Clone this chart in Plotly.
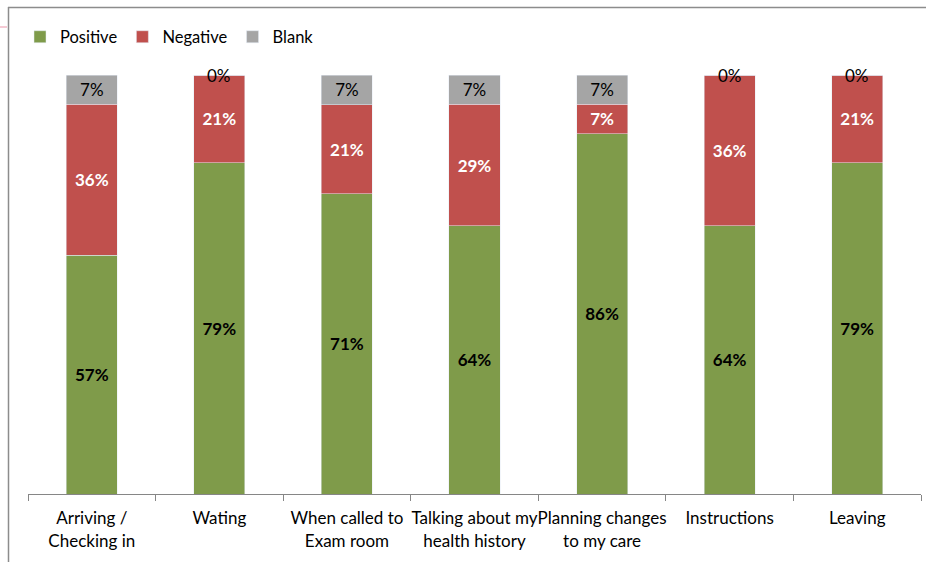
import plotly.graph_objects as go

categories = ["Arriving /<br>Checking in", "Wating", "When called to<br>Exam room",
              "Talking about my<br>health history", "Planning changes<br>to my care",
              "Instructions", "Leaving"]
positive = [57, 79, 71, 64, 86, 64, 79]
negative = [36, 21, 21, 29, 7, 36, 21]
blank = [7, 0, 7, 7, 7, 0, 0]

GREEN = "#7F9B4A"
RED = "#C0504D"
GRAY = "#A5A5A5"
FONT = "Lato"
LBL = 17

def labels(vals):
    return [f"{v}%" if v else "" for v in vals]

fig = go.Figure()
common = dict(textposition="inside", insidetextanchor="middle", textangle=0, constraintext="none")
fig.add_trace(go.Bar(x=categories, y=positive, name="Positive", marker_color=GREEN,
                     text=labels(positive),
                     textfont=dict(family=FONT, size=LBL, color="black", weight="bold"), **common))
fig.add_trace(go.Bar(x=categories, y=negative, name="Negative", marker_color=RED,
                     text=labels(negative),
                     textfont=dict(family=FONT, size=LBL, color="white", weight="bold"), **common))
fig.add_trace(go.Bar(x=categories, y=blank, name="Blank", marker_color=GRAY,
                     text=labels(blank),
                     textfont=dict(family=FONT, size=LBL, color="black"), **common))

# zero-height segments: label at top of the stack
for c, v in zip(categories, blank):
    if v == 0:
        fig.add_annotation(x=c, y=100, text=f"{v}%", showarrow=False, yanchor="middle",
                           font=dict(family=FONT, size=LBL, color="black"))

W, H = 926, 562
L, R, T, B = 28, 5, 75, 68
pw, ph = W - L - R, H - T - B
def px(x):
    return (x - L) / pw
def py(y):
    return (H - B - y) / ph

fig.update_layout(
    width=W, height=H,
    margin=dict(l=L, r=R, t=T, b=B),
    barmode="stack", barnorm="percent", bargap=0.6,
    plot_bgcolor="white", paper_bgcolor="white",
    font=dict(family=FONT, size=17, color="black"),
    showlegend=True,
    legend=dict(orientation="h", x=px(20), xanchor="left", y=py(37), yanchor="middle",
                font=dict(family=FONT, size=16.5, color="black"), traceorder="normal",
                itemwidth=30),
    xaxis=dict(showline=True, linecolor="#868686", linewidth=1, ticks="outside",
               tickson="boundaries", ticklen=6, tickcolor="#868686", ticklabelstandoff=9,
               tickangle=0, automargin=False,
               tickfont=dict(family=FONT, size=17, color="black"), fixedrange=True),
    yaxis=dict(range=[0, 100], visible=False, showgrid=False, fixedrange=True, automargin=False),
    shapes=[
        dict(type="line", xref="paper", yref="paper", x0=px(8), x1=px(926), y0=py(7.5), y1=py(7.5),
             line=dict(color="#8C8C8C", width=1.5)),
        dict(type="line", xref="paper", yref="paper", x0=px(8.5), x1=px(8.5), y0=py(7), y1=py(562),
             line=dict(color="#8C8C8C", width=1.5)),
        dict(type="line", xref="paper", yref="paper", x0=px(0), x1=px(7), y0=py(27), y1=py(27),
             line=dict(color="#F2B8C6", width=1.5)),
    ],
)

fig.write_html("out.html")
